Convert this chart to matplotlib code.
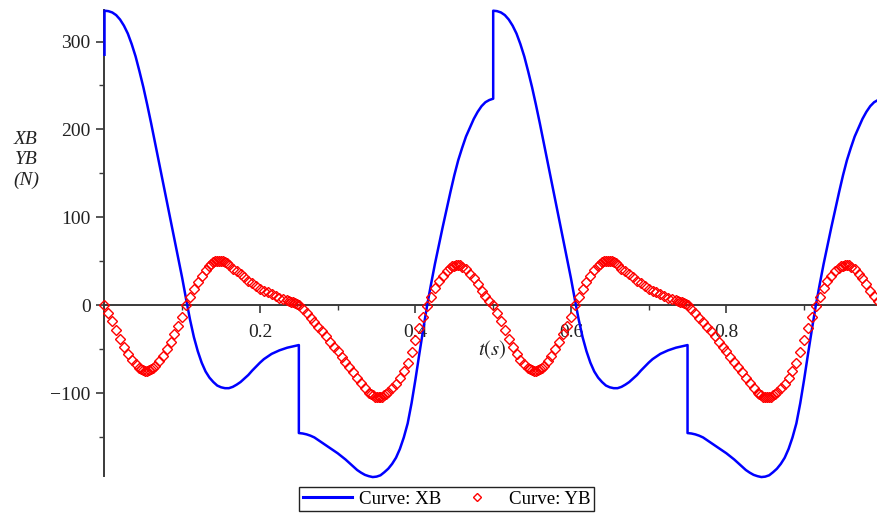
import matplotlib.pyplot as plt
from matplotlib.lines import Line2D
from matplotlib.ticker import FixedLocator

plt.rcParams['font.family'] = 'Liberation Serif'
plt.rcParams['mathtext.fontset'] = 'stix'
plt.rcParams['font.size'] = 14

# one period (0.5 s) of the horizontal bearing force XB, the two jumps included
xb_t = [0.000, 0.005, 0.010, 0.015, 0.020, 0.025, 0.030, 0.035, 0.040, 0.045,
        0.050, 0.055, 0.060, 0.065, 0.070, 0.075, 0.080, 0.085, 0.090, 0.095,
        0.100, 0.105, 0.110, 0.115, 0.120, 0.125, 0.130, 0.135, 0.140, 0.145,
        0.150, 0.155, 0.160, 0.165, 0.170, 0.175, 0.180, 0.185, 0.190, 0.195,
        0.200, 0.205, 0.210, 0.215, 0.220, 0.225, 0.230, 0.235, 0.240, 0.245,
        0.250, 0.250, 0.255, 0.260, 0.265, 0.270, 0.275, 0.280, 0.285, 0.290,
        0.295, 0.300, 0.305, 0.310, 0.315, 0.320, 0.325, 0.330, 0.335, 0.340,
        0.345, 0.350, 0.355, 0.360, 0.365, 0.370, 0.375, 0.380, 0.385, 0.390,
        0.395, 0.400, 0.405, 0.410, 0.415, 0.420, 0.425, 0.430, 0.435, 0.440,
        0.445, 0.450, 0.455, 0.460, 0.465, 0.470, 0.475, 0.480, 0.485, 0.490,
        0.495, 0.500]
xb_v = [335, 334.5, 333, 330, 325, 318, 309, 297, 283, 266,
        248, 228, 207, 185, 163, 141, 119, 97, 75, 53,
        31, 7, -16, -36, -52, -65, -75, -82, -87, -91,
        -93, -94, -94, -92.5, -90, -87, -83, -79, -74, -69.5,
        -65, -61, -58, -55, -53, -51, -49.5, -48, -47, -46,
        -45, -145, -145.5, -146.5, -148, -150, -153, -156, -159, -162,
        -165, -168, -171.5, -175, -179, -183, -187, -190, -192.5, -194,
        -195, -194.5, -193, -189.5, -185.5, -180, -173, -163, -150, -134,
        -111, -84, -55, -27, 0, 24, 47, 68, 89, 109,
        129, 148, 165, 179, 192, 202, 212, 220, 226.5, 231,
        233.5, 235]
xb_start = 285

# one period of the vertical bearing force YB
yb_t = [0.000, 0.005, 0.010, 0.015, 0.020, 0.025, 0.030, 0.035, 0.040, 0.045,
        0.0475, 0.050, 0.0525, 0.055, 0.0575, 0.060, 0.0625, 0.065, 0.070, 0.075,
        0.080, 0.085, 0.090, 0.095, 0.100, 0.105, 0.110, 0.115, 0.120, 0.125,
        0.130, 0.135, 0.1375, 0.140, 0.1425, 0.145, 0.1475, 0.150, 0.1525, 0.155,
        0.1575, 0.160, 0.165, 0.170, 0.175, 0.180, 0.185, 0.190, 0.195, 0.200,
        0.205, 0.210, 0.215, 0.220, 0.225, 0.230, 0.235, 0.2375, 0.240, 0.2425,
        0.245, 0.2475, 0.250, 0.255, 0.260, 0.265, 0.270, 0.275, 0.280, 0.285,
        0.290, 0.295, 0.300, 0.305, 0.310, 0.315, 0.320, 0.325, 0.330, 0.335,
        0.340, 0.3425, 0.345, 0.3475, 0.350, 0.3525, 0.355, 0.3575, 0.360, 0.3625,
        0.365, 0.370, 0.375, 0.380, 0.385, 0.390, 0.395, 0.400, 0.405, 0.410,
        0.415, 0.420, 0.425, 0.430, 0.435, 0.440, 0.445, 0.4475, 0.450, 0.4525,
        0.455, 0.4575, 0.460, 0.465, 0.470, 0.475, 0.480, 0.485, 0.490, 0.495]
yb_v = [0, -8, -18, -28, -38, -47, -55, -62, -67, -71,
        -72, -73, -74, -74, -73.5, -72, -71, -69, -63, -57,
        -49, -41, -32, -23, -13, 0, 10, 19, 27, 34,
        40, 45, 47, 49, 50, 51, 51, 51, 50.5, 49,
        48, 46, 42, 39, 36, 32, 28, 25, 22, 19,
        17, 15, 13, 11, 9, 7, 6, 5, 4, 3.5,
        2.5, 1.5, 0, -4, -9, -14, -19, -24, -29, -35,
        -41, -47, -52, -58, -64, -70, -76, -82, -88, -94,
        -99, -101, -102, -103.5, -104, -104.5, -104, -103.5, -102, -100.5,
        -98, -94, -89, -82, -74, -65, -53, -39, -26, -13,
        -1, 10, 20, 28, 34, 39, 43, 44.5, 45, 46,
        46, 45.5, 44, 41, 36, 31, 24, 17, 11, 5]

period = 0.5

t_xb = [0.0] + xb_t + [t + period for t in xb_t]
v_xb = [xb_start] + xb_v + xb_v
t_yb = yb_t + [t + period for t in yb_t] + [2 * period]
v_yb = yb_v + yb_v + [0]

fig = plt.figure(figsize=(8.78, 5.17), dpi=100)
ax = fig.add_axes([104.5 / 878, 41 / 517, 1 - 104.5 / 878, 466 / 517])

ax.plot(t_xb, v_xb, color='#0000ff', lw=1.8, clip_on=False, zorder=3,
        solid_joinstyle='round')
ax.plot(t_yb, v_yb, ls='none', marker='D', ms=4.8, mfc='none', mec='#ff0000',
        mew=1.0, clip_on=False, zorder=4)

ax.set_xlim(0, 0.995)
ax.set_ylim(-193.8, 335.8)

axis_col = '#3a3a3a'
for side in ['top', 'right']:
    ax.spines[side].set_visible(False)
for side in ['left', 'bottom']:
    ax.spines[side].set_position(('data', 0))
    ax.spines[side].set_color(axis_col)
    ax.spines[side].set_linewidth(1.4)

ax.xaxis.set_major_locator(FixedLocator([0.2, 0.4, 0.6, 0.8]))
ax.xaxis.set_minor_locator(FixedLocator([0.1, 0.3, 0.5, 0.7, 0.9]))
ax.yaxis.set_major_locator(FixedLocator([-100, 0, 100, 200, 300]))
ax.yaxis.set_minor_locator(FixedLocator([-150, -50, 50, 150, 250]))
ax.tick_params(which='major', direction='out', length=6, width=1.2, color=axis_col,
               labelsize=14, labelcolor='#222222')
ax.tick_params(which='minor', direction='out', length=3.5, width=1.0, color=axis_col)
ax.tick_params(axis='x', pad=7)
ax.tick_params(axis='y', pad=4)
ax.set_xticklabels(['0.2', '0.4', '0.6', '0.8'])
ax.set_yticklabels(['\u2212100', '0', '100', '200', '300'])
ax.patch.set_alpha(0)

fig.text(492 / 878, 1 - 350 / 517, r'$t(s)$', ha='center', va='center', fontsize=15,
         color='#222222')
fig.text(26 / 878, 1 - 160 / 517, 'XB\nYB\n(N)', ha='center', va='center',
         fontstyle='italic', fontsize=14, linespacing=1.25, color='#222222')

handles = [Line2D([], [], color='#0000ff', lw=2.2),
           Line2D([], [], ls='none', marker='D', ms=4.2, mfc='none', mec='#ff0000', mew=1.0)]
leg = fig.legend(handles, ['Curve: XB', 'Curve: YB'], loc='center',
                 bbox_to_anchor=(446.5 / 878, 1 - 499 / 517), ncol=2, fontsize=13.6,
                 frameon=True, fancybox=False, edgecolor='#222222', framealpha=1,
                 handlelength=2.6, handletextpad=0.4, columnspacing=0.55,
                 borderpad=0.18, borderaxespad=0)
leg.get_frame().set_linewidth(1.0)

fig.savefig('out.png', dpi=100)
